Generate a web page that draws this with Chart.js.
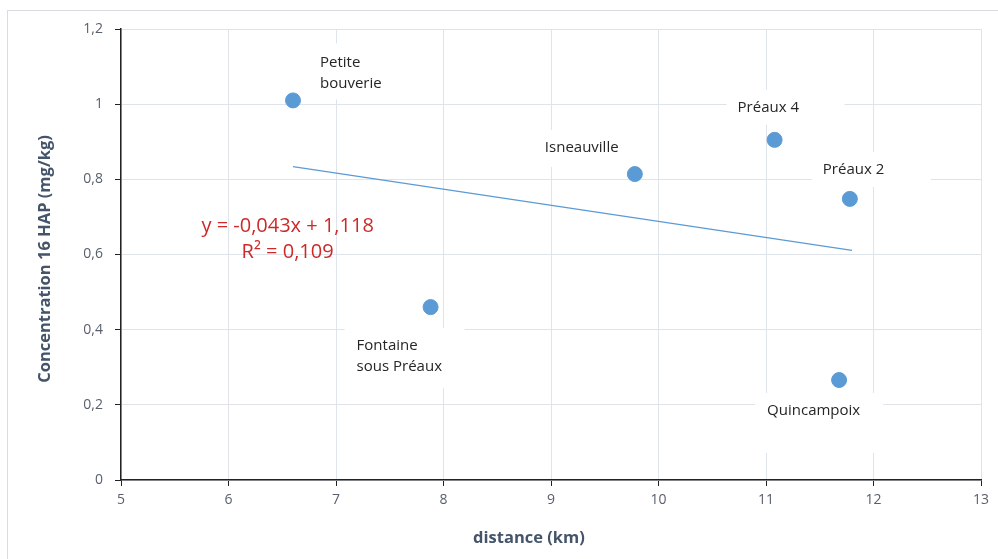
<!DOCTYPE html>
<html><head><meta charset="utf-8">
<script src="https://cdn.jsdelivr.net/npm/chart.js@4/dist/chart.umd.min.js"></script>
<style>
html,body{margin:0;padding:0;background:#fff;overflow:hidden}
#wrap{position:relative;width:998px;height:559px}
#frame{position:absolute;left:7px;top:10px;width:1100px;height:700px;border:1px solid #d9dde3;box-sizing:border-box}
canvas{position:absolute;left:0;top:0}
</style></head><body>
<div id="wrap"><div id="frame"></div><canvas id="c" width="998" height="559"></canvas></div>
<script>
// ---- data ----
const siteLabels = [['Petite','bouverie'],['Fontaine','sous Préaux'],['Isneauville'],['Préaux 4'],['Préaux 2'],['Quincampoix']];
const distanceKm = [6.6, 7.88, 9.78, 11.08, 11.78, 11.68];
const concentration = [1.01, 0.46, 0.814, 0.905, 0.748, 0.266];
const trendX = [6.6, 11.8];
const trendY = [0.834, 0.611];
const xTicks = [5,6,7,8,9,10,11,12,13];
const yTicks = [0,0.2,0.4,0.6,0.8,1,1.2];
const equationLines = ['y = -0,043x + 1,118', 'R² = 0,109'];
const xTitle = 'distance (km)';
const yTitle = 'Concentration 16 HAP (mg/kg)';

const FONT = "'Open Sans', sans-serif";
const fmt = v => String(Math.round(v*10)/10).replace('.', ',');

const pointData = distanceKm.map((x,i)=>({x, y: concentration[i]}));
const trendData = trendX.map((x,i)=>({x, y: trendY[i]}));

// label placement (style): text offset from point, white box relative to point
const labelPlacement = [
  {dx:27, dy:-38, box:[16,-57,104,-1]},
  {dx:-74, dy:39, box:[-86,21,34,81]},
  {dx:-90, dy:-26, box:[-102,-44,15,-7]},
  {dx:-37, dy:-32, box:[-48,-50,70,-15]},
  {dx:-27, dy:-29, box:[-38,-47,81,-12]},
  {dx:-72, dy:31, box:[-84,13,44,73]}
];

const labelPlugin = {
  id:'siteLabels',
  beforeDatasetsDraw(chart){
    const ctx = chart.ctx, xs = chart.scales.x, ys = chart.scales.y;
    ctx.save();
    ctx.font = "15px " + FONT;
    ctx.textBaseline = 'middle';
    ctx.textAlign = 'left';
    siteLabels.forEach((lines,i)=>{
      const px = xs.getPixelForValue(distanceKm[i]);
      const py = ys.getPixelForValue(concentration[i]);
      const p = labelPlacement[i];
      ctx.fillStyle = '#ffffff';
      ctx.fillRect(px+p.box[0], py+p.box[1], p.box[2]-p.box[0], p.box[3]-p.box[1]);
      ctx.fillStyle = '#262626';
      lines.forEach((t,j)=> ctx.fillText(t, px+p.dx, py+p.dy+j*21));
    });
    // trend equation
    ctx.fillStyle = '#cc2a2a';
    ctx.font = "20px " + FONT;
    ctx.textAlign = 'center';
    const ex = xs.getPixelForValue(6.55), ey = ys.getPixelForValue(0.676);
    equationLines.forEach((t,j)=> ctx.fillText(t, ex, ey + j*26));
    ctx.restore();
  },
  afterDraw(chart){
    const ctx = chart.ctx;
    ctx.save();
    ctx.fillStyle = '#44546a';
    ctx.font = "bold 16.5px " + FONT;
    ctx.textAlign = 'center';
    ctx.textBaseline = 'middle';
    ctx.fillText(xTitle, 529, 538);
    ctx.translate(45, 259);
    ctx.rotate(-Math.PI/2);
    ctx.fillText(yTitle, 0, 0);
    ctx.restore();
  }
};

new Chart(document.getElementById('c'), {
  type:'scatter',
  data:{datasets:[
    {label:'trend', type:'line', data:trendData, borderColor:'#5b9bd5', borderWidth:1.3, pointRadius:0, fill:false, order:2},
    {label:'sites', data:pointData, backgroundColor:'#5b9bd5', borderColor:'#5b9bd5', borderWidth:1, pointRadius:7.5, pointHoverRadius:7.5, order:1}
  ]},
  options:{
    responsive:false, animation:false, devicePixelRatio:1,
    layout:{padding:{left:0, top:29, right:17, bottom:0}},
    plugins:{legend:{display:false}, tooltip:{enabled:false}},
    scales:{
      x:{type:'linear', min:5, max:13,
        afterBuildTicks: s => { s.ticks = xTicks.map(v=>({value:v})); },
        afterFit: s => { s.height = 79; },
        grid:{color:'#dfe3ea', lineWidth:1, tickColor:'#222', tickLength:6},
        border:{color:'#222', width:1.5},
        ticks:{color:'#59606d', font:{family:FONT, size:14}, padding:6, callback: v=>fmt(v), maxRotation:0},
        title:{display:false}
      },
      y:{type:'linear', min:0, max:1.2,
        afterBuildTicks: s => { s.ticks = yTicks.map(v=>({value:v})); },
        afterFit: s => { s.width = 121; },
        grid:{color:'#dfe3ea', lineWidth:1, tickColor:'#222', tickLength:6},
        border:{color:'#222', width:1.5},
        ticks:{color:'#59606d', font:{family:FONT, size:14}, padding:12, callback: v=>fmt(v)},
        title:{display:false}
      }
    }
  },
  plugins:[labelPlugin]
});
</script>
</body></html>
